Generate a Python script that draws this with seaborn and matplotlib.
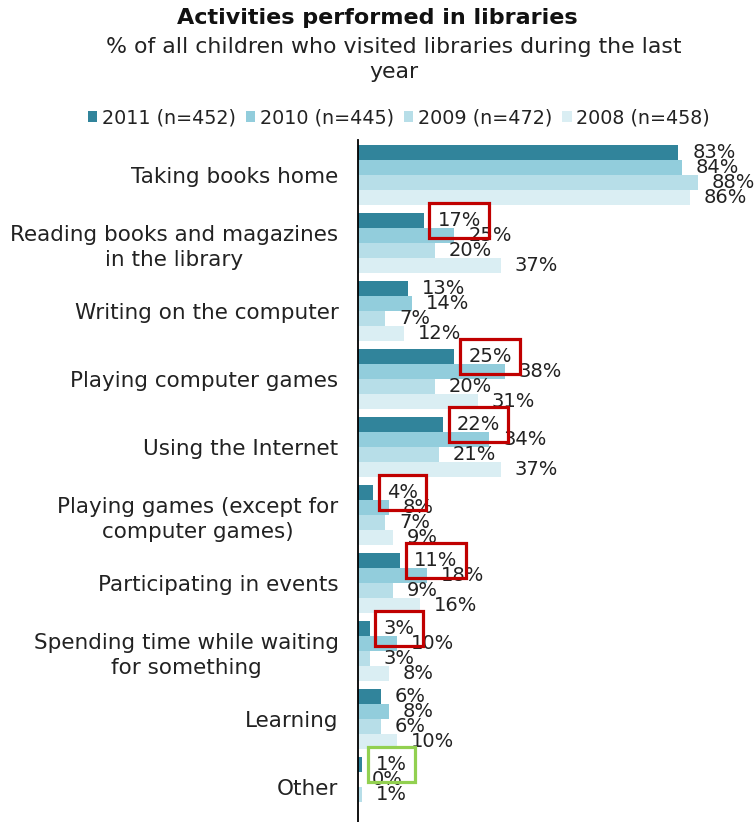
import numpy as np
import pandas as pd
import matplotlib
matplotlib.use("Agg")
import matplotlib.pyplot as plt
import seaborn as sns

# data
activities = [
    "Taking books home",
    "Reading books and magazines\nin the library",
    "Writing on the computer",
    "Playing computer games",
    "Using the Internet",
    "Playing games (except for\ncomputer games)",
    "Participating in events",
    "Spending time while waiting\nfor something",
    "Learning",
    "Other",
]
years = ["2011 (n=452)", "2010 (n=445)", "2009 (n=472)", "2008 (n=458)"]
v2011 = [83, 17, 13, 25, 22, 4, 11, 3, 6, 1]
v2010 = [84, 25, 14, 38, 34, 8, 18, 10, 8, 0]
v2009 = [88, 20, 7, 20, 21, 7, 9, 3, 6, 1]
v2008 = [86, 37, 12, 31, 37, 9, 16, 8, 10, np.nan]
colors = ["#31849B", "#92CDDC", "#B7DEE8", "#DAEEF3"]

# which 2011 labels get a highlight box
red_boxed = [1, 3, 4, 5, 6, 7]
green_boxed = [9]

df = pd.DataFrame({
    "activity": activities * 4,
    "year": np.repeat(years, len(activities)),
    "value": v2011 + v2010 + v2009 + v2008,
}).dropna()

sns.set_style("white")
plt.rcParams["font.family"] = ["DejaVu Sans"]

W, H = 754, 822
fig = plt.figure(figsize=(W / 100, H / 100), dpi=100)
ax = fig.add_axes([358 / W, 0, 1 - 358 / W, 682 / H])

sns.barplot(data=df, y="activity", x="value", hue="year", order=activities,
            hue_order=years, palette=colors, saturation=1, width=0.88, gap=0,
            orient="h", linewidth=0, ax=ax)

ax.set_xlim(0, 102.6)
ax.set_ylim(9.515, -0.515)
ax.set_xlabel("")
ax.set_ylabel("")
ax.set_xticks([])
for s in ["top", "right", "bottom"]:
    ax.spines[s].set_visible(False)
ax.spines["left"].set_color("black")
ax.spines["left"].set_linewidth(1.3)
ax.tick_params(axis="y", length=0, pad=14, labelsize=15.5, labelcolor="#222222")
for lab in ax.get_yticklabels():
    lab.set_multialignment("center")
    lab.set_linespacing(1.3)

# value labels
for i, cont in enumerate(ax.containers):
    texts = ax.bar_label(cont, fmt="{:.0f}%", padding=10, fontsize=14, color="#222222")
    if i == 0:
        for j, t in enumerate(texts):
            if j in red_boxed:
                t.set_bbox(dict(boxstyle="square,pad=0.42", fc="none", ec="#C00000", lw=2.3))
            elif j in green_boxed:
                t.set_bbox(dict(boxstyle="square,pad=0.42", fc="none", ec="#92D050", lw=2.3))
            t.set_zorder(10)

# legend at the top
handles, labels = ax.get_legend_handles_labels()
ax.get_legend().remove()
fig.legend(handles, labels, loc="center", bbox_to_anchor=(399 / W, 1 - 118 / H),
           ncol=4, frameon=False, handlelength=0.5, handleheight=0.5,
           handletextpad=0.25, columnspacing=0.5, fontsize=13.8,
           labelcolor="#222222")

fig.text(0.5, 1 - 18 / H, "Activities performed in libraries", ha="center",
         va="center", fontsize=16, fontweight="bold", color="#111111")
fig.text(394 / W, 1 - 59.5 / H,
         "% of all children who visited libraries during the last\nyear",
         ha="center", va="center", fontsize=15.8, color="#222222",
         linespacing=1.3)

fig.savefig("out.png", dpi=100)
